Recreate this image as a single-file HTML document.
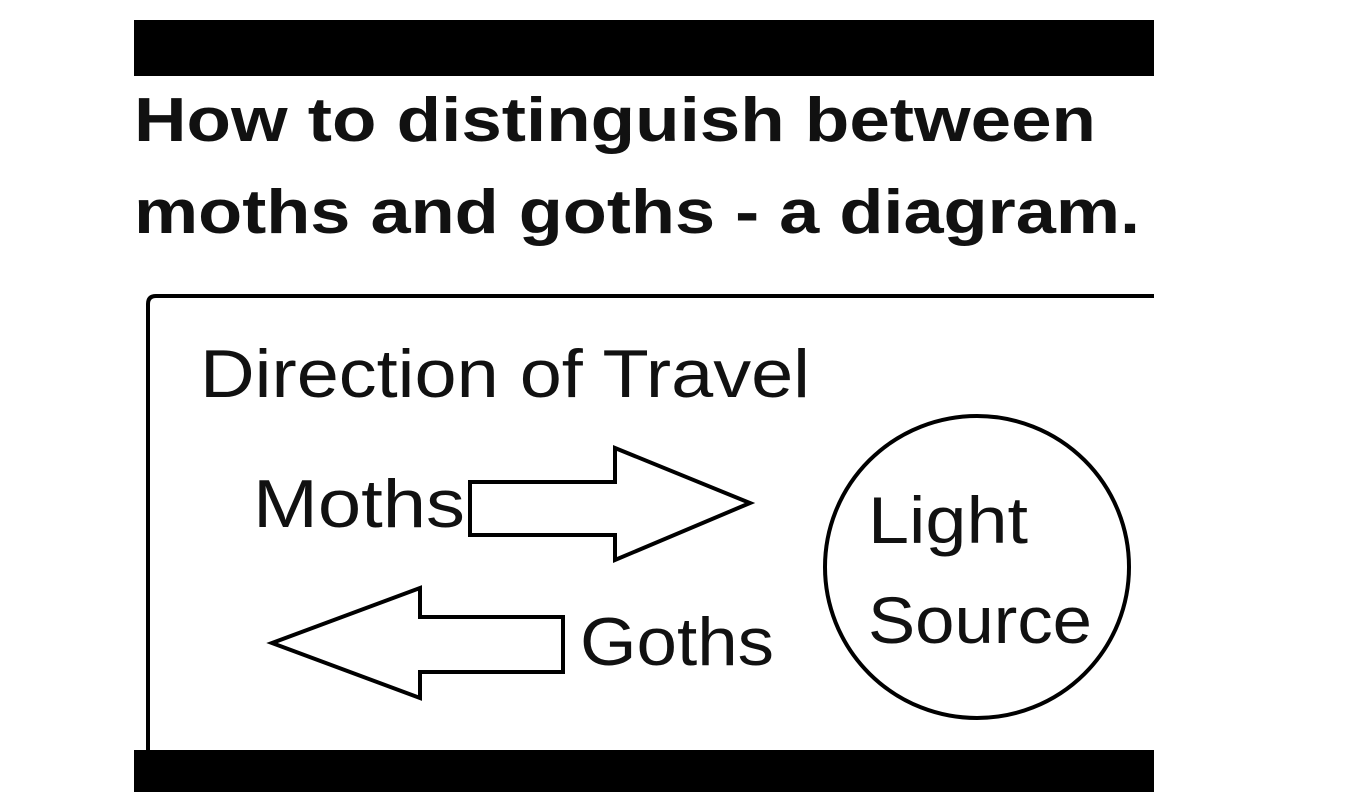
<!DOCTYPE html>
<html><head><meta charset="utf-8"><style>
html,body{margin:0;padding:0;background:#fff;}
body{width:1358px;height:792px;position:relative;overflow:hidden;font-family:"Liberation Sans",sans-serif;}
</style></head><body>
<svg width="1358" height="792" viewBox="0 0 1358 792" xmlns="http://www.w3.org/2000/svg" style="position:absolute;left:0;top:0">
<rect x="134" y="20" width="1020" height="56" fill="#000"/>
<rect x="134" y="750" width="1020" height="42" fill="#000"/>
<text x="134" y="141" font-family="Liberation Sans, sans-serif" font-weight="bold" font-size="62" fill="#111" textLength="962" lengthAdjust="spacingAndGlyphs">How to distinguish between</text>
<text x="134" y="233" font-family="Liberation Sans, sans-serif" font-weight="bold" font-size="62" fill="#111" textLength="1006" lengthAdjust="spacingAndGlyphs">moths and goths - a diagram.</text>
<path d="M148 750 L148 304 Q148 296 156 296 L1154 296" fill="none" stroke="#000" stroke-width="4"/>
<text x="200" y="397" font-family="Liberation Sans, sans-serif" font-size="68" fill="#111" textLength="610" lengthAdjust="spacingAndGlyphs">Direction of Travel</text>
<text x="253" y="527" font-family="Liberation Sans, sans-serif" font-size="68" fill="#111" textLength="212" lengthAdjust="spacingAndGlyphs">Moths</text>
<polygon points="470,482 615,482 615,448 750,503 615,560 615,535 470,535" fill="#fff" stroke="#000" stroke-width="4"/>
<polygon points="563,617 420,617 420,588 272,643 420,698 420,672 563,672" fill="#fff" stroke="#000" stroke-width="4"/>
<text x="580" y="665" font-family="Liberation Sans, sans-serif" font-size="68" fill="#111" textLength="194" lengthAdjust="spacingAndGlyphs">Goths</text>
<ellipse cx="977" cy="567" rx="152" ry="151" fill="none" stroke="#000" stroke-width="4"/>
<text x="868" y="543" font-family="Liberation Sans, sans-serif" font-size="66" fill="#111" textLength="160" lengthAdjust="spacingAndGlyphs">Light</text>
<text x="868" y="643" font-family="Liberation Sans, sans-serif" font-size="66" fill="#111" textLength="224" lengthAdjust="spacingAndGlyphs">Source</text>
</svg>
</body></html>
